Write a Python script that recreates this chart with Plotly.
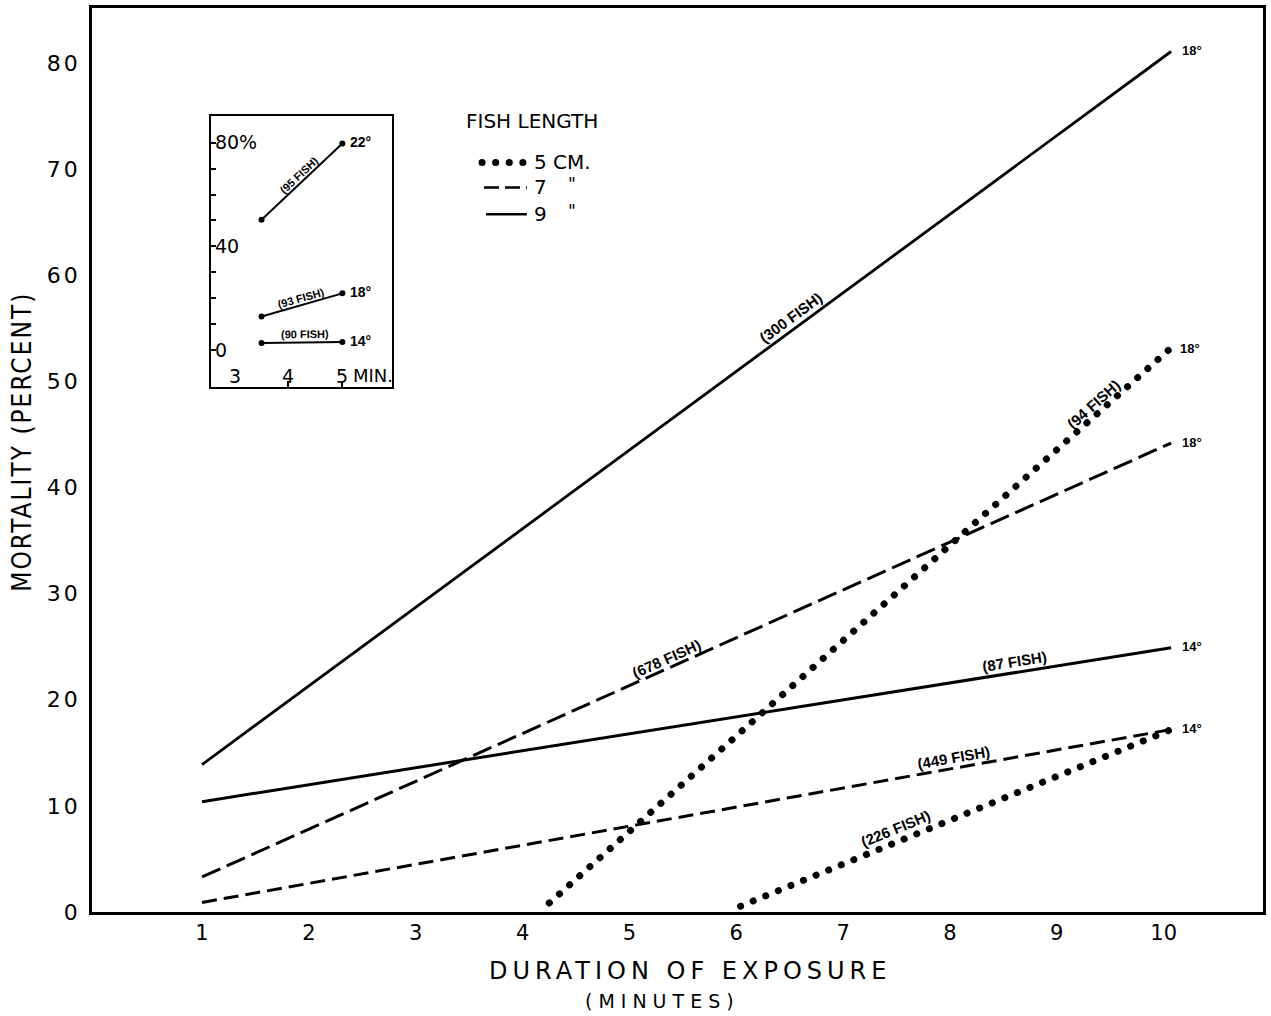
import math
import plotly.graph_objects as go

# ---------------- data ----------------
minutes_ticks = [1, 2, 3, 4, 5, 6, 7, 8, 9, 10]
percent_ticks = [0, 10, 20, 30, 40, 50, 60, 70, 80]

# 9 cm fish (solid)
nine_18_x = [1, 10.07]
nine_18_y = [13.9, 81.1]
nine_14_x = [1, 10.07]
nine_14_y = [10.4, 24.9]
# 7 cm fish (dashed)
seven_18_x = [1, 10.07]
seven_18_y = [3.3, 44.2]
seven_14_x = [1, 10.07]
seven_14_y = [0.9, 17.2]
# 5 cm fish (dotted)
five_18_x = [4.25, 10.05]
five_18_y = [0.85, 53.0]
five_14_x = [6.04, 10.07]
five_14_y = [0.55, 17.2]

# inset (9 cm fish, 3.5 to 5 minutes)
inset_ticks_x = [3, 4, 5]
inset_ticktext_x = ["3", "4", "5"]
inset_ticks_y = [0, 10, 20, 30, 40, 50, 60, 70, 80]
inset_ticktext_y = ["0", "", "", "", "40", "", "", "", "80%"]
inset_22_x = [3.5, 5]
inset_22_y = [50.3, 79.7]
inset_18_x = [3.5, 5]
inset_18_y = [13.0, 21.9]
inset_14_x = [3.5, 5]
inset_14_y = [2.8, 3.1]

# ---------------- layout geometry ----------------
W, H = 1271, 1016
PL, PT, PW, PH = 92, 5, 1174, 907
XR = [-0.03, 10.93]
YR = [0, 85.2]
IXR = [2.556, 5.926]
IYR = [-14.1, 90.4]


def paper(xp, yp):
    return (xp - PL) / PW, 1 - (yp - PT) / PH


ix0, iy0 = paper(211, 385)
ix1, iy1 = paper(393, 113)

FONT = "DejaVu Sans"
LBL = "Liberation Sans, Arial, sans-serif"

fig = go.Figure()


def add_line(x, y, dash, width, xa="x", ya="y", mode="lines"):
    fig.add_trace(go.Scatter(
        x=x, y=y, mode=mode, xaxis=xa, yaxis=ya,
        line=dict(color="black", width=width, dash=dash),
        marker=dict(color="black", size=6),
        showlegend=False, hoverinfo="skip"))


DOT = "0.1px,13.5px"
add_line(nine_18_x, nine_18_y, "solid", 2.8)
add_line(nine_14_x, nine_14_y, "solid", 3)
add_line(seven_18_x, seven_18_y, "20px,7px", 3)
add_line(seven_14_x, seven_14_y, "15px,7px", 3)
add_line(five_18_x, five_18_y, DOT, 7)
add_line(five_14_x, five_14_y, DOT, 7)

add_line(inset_22_x, inset_22_y, "solid", 2, "x2", "y2", "lines+markers")
add_line(inset_18_x, inset_18_y, "solid", 2, "x2", "y2", "lines+markers")
add_line(inset_14_x, inset_14_y, "solid", 2, "x2", "y2", "lines+markers")

annotations = []

# pixel scales of the main plot
sx = PW / (XR[1] - XR[0])
sy = PH / (YR[1] - YR[0])


def line_label(xs, ys, xat, text, up, size=15, xscale=sx, yscale=sy, xa="x", ya="y"):
    t = (xat - xs[0]) / (xs[1] - xs[0])
    yat = ys[0] + t * (ys[1] - ys[0])
    ang = math.degrees(math.atan2((ys[1] - ys[0]) * yscale, (xs[1] - xs[0]) * xscale))
    annotations.append(dict(
        x=xat, y=yat, xref=xa, yref=ya, text="<b>" + text + "</b>", showarrow=False,
        xanchor="center", yanchor="middle",
        textangle=-ang, yshift=up, font=dict(family=LBL, size=size, color="black")))


line_label(nine_18_x, nine_18_y, 6.51, "(300 FISH)", 14)
line_label(seven_18_x, seven_18_y, 5.35, "(678 FISH)", 10)
line_label(nine_14_x, nine_14_y, 8.60, "(87 FISH)", 11)
line_label(seven_14_x, seven_14_y, 8.03, "(449 FISH)", 11)
line_label(five_14_x, five_14_y, 7.49, "(226 FISH)", 14)
line_label(five_18_x, five_18_y, 9.34, "(94 FISH)", 13)


def end_label(xs, ys, text, xa="x", ya="y", size=13, shift=9):
    annotations.append(dict(
        x=xs[-1], y=ys[-1], xref=xa, yref=ya, text="<b>" + text + "</b>", showarrow=False,
        xanchor="left", yanchor="middle", xshift=shift, yshift=1,
        font=dict(family=LBL, size=size, color="black")))


end_label(nine_18_x, nine_18_y, "18°")
end_label(five_18_x, five_18_y, "18°")
end_label(seven_18_x, seven_18_y, "18°")
end_label(nine_14_x, nine_14_y, "14°")
end_label(seven_14_x, seven_14_y, "14°")

# inset labels
isx = (393 - 211) / (IXR[1] - IXR[0])
isy = (385 - 113) / (IYR[1] - IYR[0])
line_label(inset_22_x, inset_22_y, 4.20, "(95 FISH)", 9, 11, isx, isy, "x2", "y2")
line_label(inset_18_x, inset_18_y, 4.24, "(93 FISH)", 7, 11, isx, isy, "x2", "y2")
line_label(inset_14_x, inset_14_y, 4.30, "(90 FISH)", 8, 11, isx, isy, "x2", "y2")
end_label(inset_22_x, inset_22_y, "22°", "x2", "y2", 14, 6)
end_label(inset_18_x, inset_18_y, "18°", "x2", "y2", 14, 6)
end_label(inset_14_x, inset_14_y, "14°", "x2", "y2", 14, 6)


def ptext(text, xp, yp, size, xanchor="center", family=FONT, angle=0):
    ax, ay = paper(xp, yp)
    annotations.append(dict(x=ax, y=ay, xref="paper", yref="paper", text=text, showarrow=False,
                            xanchor=xanchor, yanchor="middle", textangle=angle,
                            font=dict(family=family, size=size, color="black")))


# inset x tick labels (drawn inside the inset box, just above its bottom edge)
_, iy_lab = paper(0, 374)
for v, t in zip(inset_ticks_x, inset_ticktext_x):
    annotations.append(dict(x=v, y=iy_lab, xref="x2", yref="paper", text=t, showarrow=False,
                            xanchor="center", yanchor="middle",
                            font=dict(family=FONT, size=19, color="black")))
ptext("MIN.", 352, 374, 18, "left")

# legend block
ptext("FISH LENGTH", 533, 118, 20)
legend_rows = [("5 CM.", DOT, 7, 483, 160), ("7", "15px,6px", 2.5, 485, 185), ("9", "solid", 2.5, 487, 212)]
shapes = []
for text, dash, width, x0p, yp in legend_rows:
    a0, b0 = paper(x0p, yp)
    a1, _ = paper(528, yp)
    shapes.append(dict(type="line", xref="paper", yref="paper", x0=a0, x1=a1, y0=b0, y1=b0,
                       line=dict(color="black", width=width, dash=dash)))
    ptext(text, 533, yp, 20, "left")
    if text in ("7", "9"):
        ptext('"', 567, yp - 3, 17, "left")

# axis titles
ptext('<span style="letter-spacing:2px">MORTALITY (PERCENT)</span>', 21, 440, 26,
      family="Liberation Sans Narrow, DejaVu Sans Condensed, sans-serif", angle=-90)
ptext('<span style="letter-spacing:5px">DURATION OF EXPOSURE</span>', 692, 971, 24)
ptext('<span style="letter-spacing:6px">(MINUTES)</span>', 664, 1001, 19)

y_ticktext = ['<span style="letter-spacing:3px">%d</span>' % v for v in percent_ticks]

fig.update_layout(
    width=W, height=H, autosize=False,
    margin=dict(l=PL, r=W - PL - PW, t=PT, b=H - PT - PH, pad=0),
    paper_bgcolor="white", plot_bgcolor="white",
    showlegend=False,
    xaxis=dict(range=XR, tickvals=minutes_ticks, ticks="", showgrid=False, zeroline=False,
               showline=True, mirror=True, linecolor="black", linewidth=2.5,
               tickfont=dict(family=FONT, size=21, color="black"), ticklabelstandoff=0),
    yaxis=dict(range=YR, tickvals=percent_ticks, ticktext=y_ticktext, ticks="", showgrid=False,
               zeroline=False, showline=True, mirror=True, linecolor="black", linewidth=2.5,
               tickfont=dict(family=FONT, size=22, color="black"), ticklabelstandoff=4),
    xaxis2=dict(domain=[ix0, ix1], anchor="y2", range=IXR, tickvals=inset_ticks_x,
                showticklabels=False, ticks="inside", ticklen=6, tickwidth=1.5, tickcolor="black",
                showgrid=False, zeroline=False, showline=True, mirror=True,
                linecolor="black", linewidth=2),
    yaxis2=dict(domain=[iy0, iy1], anchor="x2", range=IYR, tickvals=inset_ticks_y,
                ticktext=inset_ticktext_y, ticks="inside", ticklen=5, tickwidth=1.5, tickcolor="black",
                ticklabelposition="inside", showgrid=False, zeroline=False, showline=True, mirror=True,
                linecolor="black", linewidth=2, tickfont=dict(family=FONT, size=19, color="black")),
    annotations=annotations,
    shapes=shapes,
)

post = (
    "document.body.style.margin='0';"
    "document.querySelectorAll('path').forEach(function(p){"
    "var d=p.style.strokeDasharray||p.getAttribute('stroke-dasharray')||'';"
    "if(d.indexOf('0.1')===0){p.style.strokeLinecap='round';}});"
)
fig.write_html("out.html", config={"displayModeBar": False}, post_script=post)
